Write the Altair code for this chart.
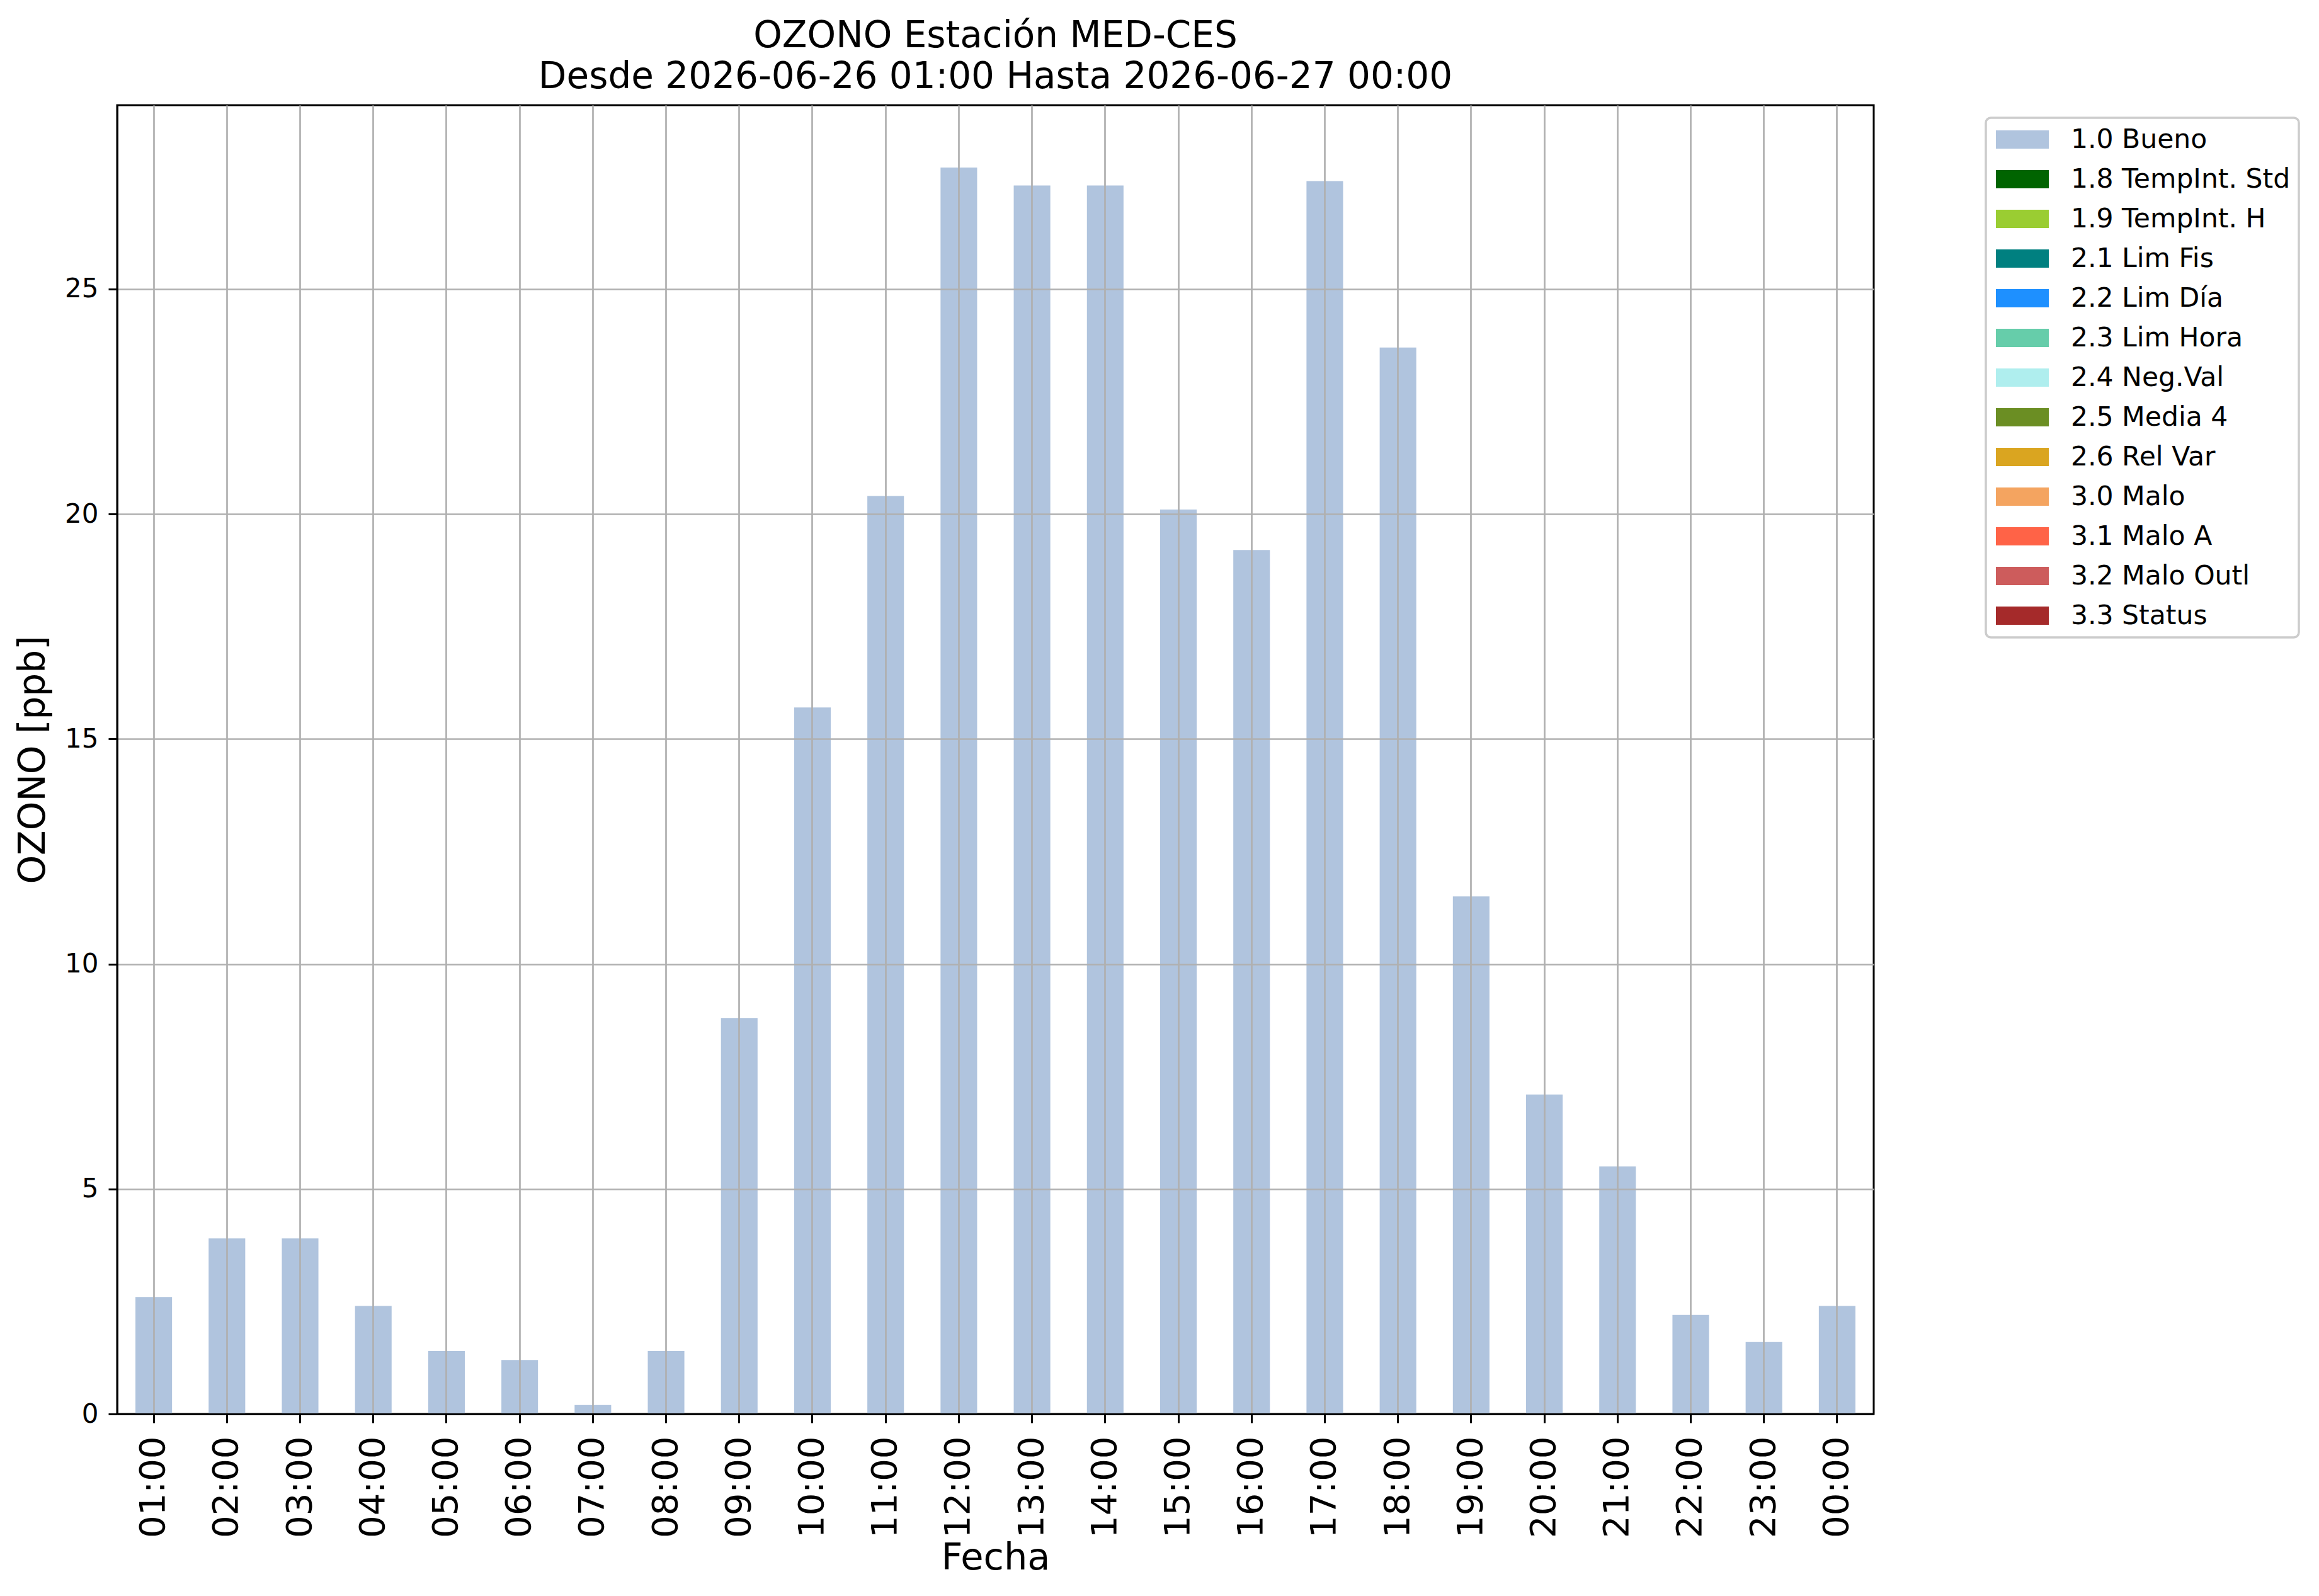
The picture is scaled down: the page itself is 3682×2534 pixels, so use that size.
import altair as alt
import pandas as pd

# ---- data ----
horas = ["01:00", "02:00", "03:00", "04:00", "05:00", "06:00", "07:00", "08:00",
         "09:00", "10:00", "11:00", "12:00", "13:00", "14:00", "15:00", "16:00",
         "17:00", "18:00", "19:00", "20:00", "21:00", "22:00", "23:00", "00:00"]
ozono = [2.6, 3.9, 3.9, 2.4, 1.4, 1.2, 0.2, 1.4,
         8.8, 15.7, 20.4, 27.7, 27.3, 27.3, 20.1, 19.2,
         27.4, 23.7, 11.5, 7.1, 5.5, 2.2, 1.6, 2.4]
bandera = ["1.0 Bueno"] * len(horas)

flag_labels = ["1.0 Bueno", "1.8 TempInt. Std", "1.9 TempInt. H", "2.1 Lim Fis",
               "2.2 Lim Día", "2.3 Lim Hora", "2.4 Neg.Val", "2.5 Media 4",
               "2.6 Rel Var", "3.0 Malo", "3.1 Malo A", "3.2 Malo Outl", "3.3 Status"]
flag_colors = ["#b0c4de", "#006400", "#9acd32", "#008080", "#1e90ff", "#66cdaa",
               "#afeeee", "#6b8e23", "#daa520", "#f4a460", "#ff6347", "#cd5c5c",
               "#a52a2a"]

y_ticks = [0, 5, 10, 15, 20, 25]

df = pd.DataFrame({"Fecha": horas, "valor": ozono, "flag": bandera})

FONT = "DejaVu Sans"
W, H = 2789, 2078

bars = alt.Chart(df).mark_bar(opacity=1).encode(
    x=alt.X("Fecha:N", sort=horas,
            scale=alt.Scale(paddingInner=0.5, paddingOuter=0.25),
            axis=alt.Axis(title="Fecha", labelAngle=270, labelFontSize=56,
                          labelPadding=21, tickSize=14, tickWidth=3, tickColor="black",
                          domainColor="black", domainWidth=3,
                          grid=True, gridColor="#b0b0b0", gridWidth=2.7,
                          titleFontSize=59, titleFontWeight="normal",
                          titleBaseline="alphabetic", titleX=W / 2, titleY=246,
                          titleAlign="center", zindex=1)),
    y=alt.Y("valor:Q",
            scale=alt.Scale(domain=[0, 29.085], nice=False, zero=True),
            axis=alt.Axis(title="OZONO [ppb]", values=y_ticks, labelFontSize=42,
                          labelPadding=16, tickSize=14, tickWidth=3, tickColor="black",
                          domainColor="black", domainWidth=3,
                          grid=True, gridColor="#b0b0b0", gridWidth=2.7,
                          titleFontSize=58, titleFontWeight="normal",
                          titleAngle=270, titleBaseline="alphabetic",
                          titleAlign="center", titleX=-116, titleY=H / 2, zindex=1)),
    color=alt.Color("flag:N", title=None,
                    scale=alt.Scale(domain=flag_labels, range=flag_colors),
                    legend=alt.Legend(orient="none", legendX=2967, legendY=20,
                                      symbolType="M-1.45,-0.5H1.45V0.5H-1.45Z",
                                      symbolSize=3364, symbolStrokeWidth=0,
                                      symbolOpacity=1, symbolOffset=16,
                                      labelFontSize=42.5, labelFont=FONT, labelColor="black",
                                      labelOffset=48, clipHeight=43, rowPadding=20,
                                      padding=13,
                                      fillColor="white", strokeColor="#cccccc",
                                      cornerRadius=8, labelLimit=1000)),
)

chart = bars.properties(
    width=W, height=H,
    title=alt.TitleParams(
        text=["OZONO Estación MED-CES", "Desde 2026-06-26 01:00 Hasta 2026-06-27 00:00"],
        fontSize=58, lineHeight=65, font=FONT, fontWeight="normal", color="black",
        anchor="middle", frame="group", baseline="bottom", offset=-43),
    autosize=alt.AutoSizeParams(type="none"),
    padding={"left": 178, "top": 159, "right": 697, "bottom": 277},
).configure(
    font=FONT,
).configure_axis(
    labelFont=FONT, titleFont=FONT, labelColor="black", titleColor="black",
).configure_view(
    stroke="black", strokeWidth=3,
).configure_legend(
    strokeWidth=3.5,
)

chart.save("out.html", embed_options={"renderer": "svg", "actions": False})
